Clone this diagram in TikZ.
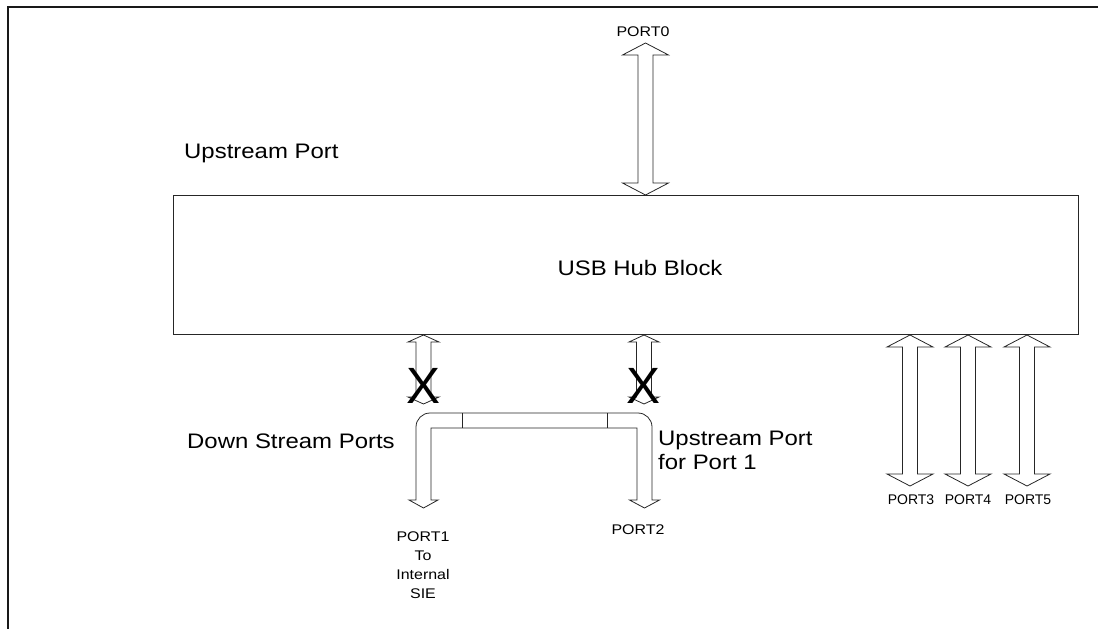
\documentclass[tikz,border=0pt]{standalone}
\usepackage{fontspec}
\usepackage{graphicx}
\setmainfont{Liberation Sans}

\tikzset{
  wire/.style={draw=black!85, line width=0.8pt},
  frameline/.style={draw=black!90, line width=1.6pt},
  biglabel/.style={font=\fontsize{21}{24}\selectfont, inner sep=0pt},
  portlabel/.style={font=\fontsize{14}{19}\selectfont, inner sep=0pt, align=center},
  crossmark/.style={font=\fontsize{51}{52}\selectfont, inner sep=0pt},
}

% the labels in the drawing are set a little wide
\newcommand{\wide}[1]{\scalebox{1.14}[1]{#1}}

% vertical double arrow: x, top tip, bottom tip, half shaft, half head, head length
\newcommand{\updown}[6]{%
  \draw[wire] (#1-#4,#2+#6) -- (#1-#5,#2+#6) -- (#1,#2) -- (#1+#5,#2+#6) -- (#1+#4,#2+#6)
    -- (#1+#4,#3-#6) -- (#1+#5,#3-#6) -- (#1,#3) -- (#1-#5,#3-#6) -- (#1-#4,#3-#6) -- cycle;}

\begin{document}
\begin{tikzpicture}[x=1pt, y=-1pt]
    \useasboundingbox (0,0) rectangle (1098,629);

    % outer frame (only top and left show)
    \draw[frameline] (8,629) -- (8,7) -- (1098,7);

    % hub block
    \node[wire, rectangle, minimum width=905pt, minimum height=139pt, inner sep=0pt] (hub) at (625.5,264.5) {};
    \node[biglabel] (hubtext) at (640,268) {\wide{USB Hub Block}};
    \node[biglabel, anchor=west] (upstream) at (184,153) {\wide{Upstream Port}};

    % upstream port
    \updown{645.5}{43}{195}{7.5}{23}{12}
    \node[portlabel] (port0) at (643,32) {\wide{PORT0}};

    % ports 3 to 5
    \foreach \x in {910,968,1027} {\updown{\x}{335}{486}{7.5}{23}{12}}
    \node[portlabel] (port3) at (911,500) {PORT3};
    \node[portlabel] (port4) at (968,500) {PORT4};
    \node[portlabel] (port5) at (1028,500) {PORT5};

    % ports 1 and 2, cut off at the hub
    \updown{423.5}{335}{404}{7.5}{15.5}{7}
    \updown{644}{335}{404}{7.5}{15}{7}
    \node[crossmark] (xleft) at (424,386) {X};
    \node[crossmark] (xright) at (643.5,386) {X};

    % loop from port 2 back to port 1
    \draw[wire] (431,500) -- (438,500) -- (423.5,508) -- (409,500) -- (416,500) -- (416,440)
        [rounded corners=14] -- (416,413) -- (652,413) -- (652,440)
        [sharp corners] -- (652,500) -- (659.5,500) -- (644.5,508) -- (629.5,500) -- (637,500)
        -- (637,428) -- (431,428) -- cycle;
    \draw[wire] (462,413) -- (462,428) (607,413) -- (607,428);

    \node[portlabel] (port1) at (423,565) {\wide{PORT1}\\\wide{To}\\\wide{Internal}\\\wide{SIE}};
    \node[portlabel] (port2) at (638,530) {\wide{PORT2}};

    \node[biglabel, anchor=west] (downstream) at (187,441) {\wide{Down Stream Ports}};
    \node[biglabel, anchor=west, align=left] (upfor1) at (658,450) {\wide{Upstream Port}\\\wide{for Port 1}};
\end{tikzpicture}
\end{document}
